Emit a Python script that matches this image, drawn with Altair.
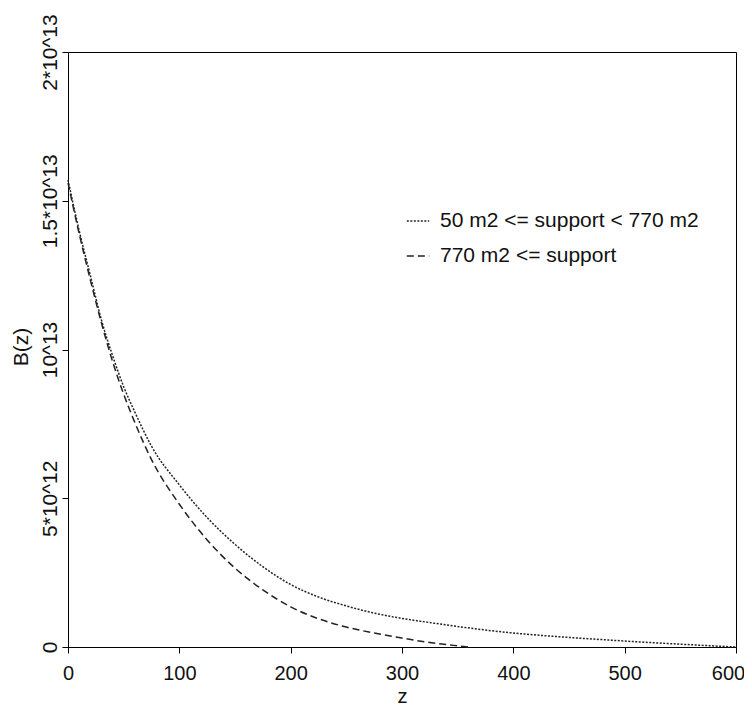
import altair as alt
import pandas as pd

# Series 1: 50 m2 <= support < 770 m2 (dotted); values in units of 10^12
z1 = [0, 10, 20, 30, 40, 50, 60, 75, 100, 125, 150, 175, 200, 225, 250, 275,
      300, 325, 350, 375, 400, 425, 450, 475, 500, 525, 550, 575, 600]
b1 = [15.7, 14.0, 12.5, 11.0, 9.8, 8.75, 7.9, 6.75, 5.45, 4.35, 3.45, 2.7, 2.1,
      1.68, 1.38, 1.14, 0.96, 0.82, 0.69, 0.57, 0.47, 0.39, 0.32, 0.26, 0.20,
      0.145, 0.095, 0.045, 0.0]

# Series 2: 770 m2 <= support (dashed)
z2 = [0, 10, 20, 30, 40, 50, 60, 75, 100, 125, 150, 175, 200, 225, 250, 275,
      300, 325, 350, 360]
b2 = [15.6, 13.9, 12.35, 10.9, 9.6, 8.5, 7.55, 6.3, 4.8, 3.6, 2.65, 1.92, 1.35,
      0.95, 0.67, 0.47, 0.30, 0.15, 0.04, 0.0]

series_names = ["50 m2 <= support < 770 m2", "770 m2 <= support"]
y_ticks = [0, 5e12, 1e13, 1.5e13, 2e13]
y_tick_labels = ["0", "5*10^12", "10^13", "1.5*10^13", "2*10^13"]
x_ticks = [0, 100, 200, 300, 400, 500, 600]

rows = []
for z, b in zip(z1, b1):
    rows.append({"z": z, "B": b * 1e12, "series": series_names[0]})
for z, b in zip(z2, b2):
    rows.append({"z": z, "B": b * 1e12, "series": series_names[1]})
df = pd.DataFrame(rows)

label_expr = " : ".join(
    f"datum.value == {v} ? '{t}'" for v, t in zip(y_ticks, y_tick_labels)
) + " : ''"

FONT = "Liberation Sans, Arial, sans-serif"
W, H = 668, 595

chart = alt.Chart(df).mark_line(
    color="#222222", strokeWidth=1.5, interpolate="monotone"
).encode(
    x=alt.X("z:Q",
            scale=alt.Scale(domain=[0, 600], nice=False, zero=False),
            axis=alt.Axis(values=x_ticks, title="z", grid=False,
                          tickSize=6, labelPadding=26,
                          labelBaseline="alphabetic", labelFontSize=20,
                          labelOffset=alt.condition("datum.value == 600",
                                                    alt.value(-8),
                                                    alt.value(0)),
                          titleFontSize=20, titleFontWeight="normal",
                          titleX=W / 2, titleY=55, titleAlign="center",
                          titleBaseline="alphabetic",
                          domainColor="black", tickColor="black",
                          labelColor="#111111", titleColor="#111111",
                          labelFlush=False)),
    y=alt.Y("B:Q",
            scale=alt.Scale(domain=[0, 2e13], nice=False),
            axis=alt.Axis(values=y_ticks, labelExpr=label_expr, title="B(z)",
                          grid=False, tickSize=6, labelPadding=6,
                          labelAngle=270, labelAlign="center",
                          labelBaseline="alphabetic", labelFontSize=21,
                          titleFontSize=21, titleFontWeight="normal",
                          titleAngle=270, titleX=-41, titleY=H / 2 - 3,
                          titleAlign="center", titleBaseline="alphabetic",
                          domainColor="black", tickColor="black",
                          labelColor="#111111", titleColor="#111111",
                          labelFlush=False, labelOverlap=False)),
    strokeDash=alt.StrokeDash(
        "series:N",
        scale=alt.Scale(domain=series_names, range=[[2, 1.5], [7, 4]]),
        legend=alt.Legend(title=None, orient="none", legendX=338, legendY=157,
                          symbolType="stroke", symbolSize=500,
                          symbolStrokeWidth=1.5, symbolStrokeColor="#222222",
                          labelFontSize=21, labelColor="#111111",
                          rowPadding=13, labelOffset=10, labelLimit=400),
    ),
).properties(
    width=W, height=H,
    autosize=alt.AutoSizeParams(type="none"),
    padding={"left": 60, "top": 44, "right": 8, "bottom": 60},
    background="white",
).configure(
    font=FONT,
).configure_view(
    stroke="black", strokeWidth=1,
)

chart.save("out.html", embed_options={"renderer": "svg", "actions": False})
